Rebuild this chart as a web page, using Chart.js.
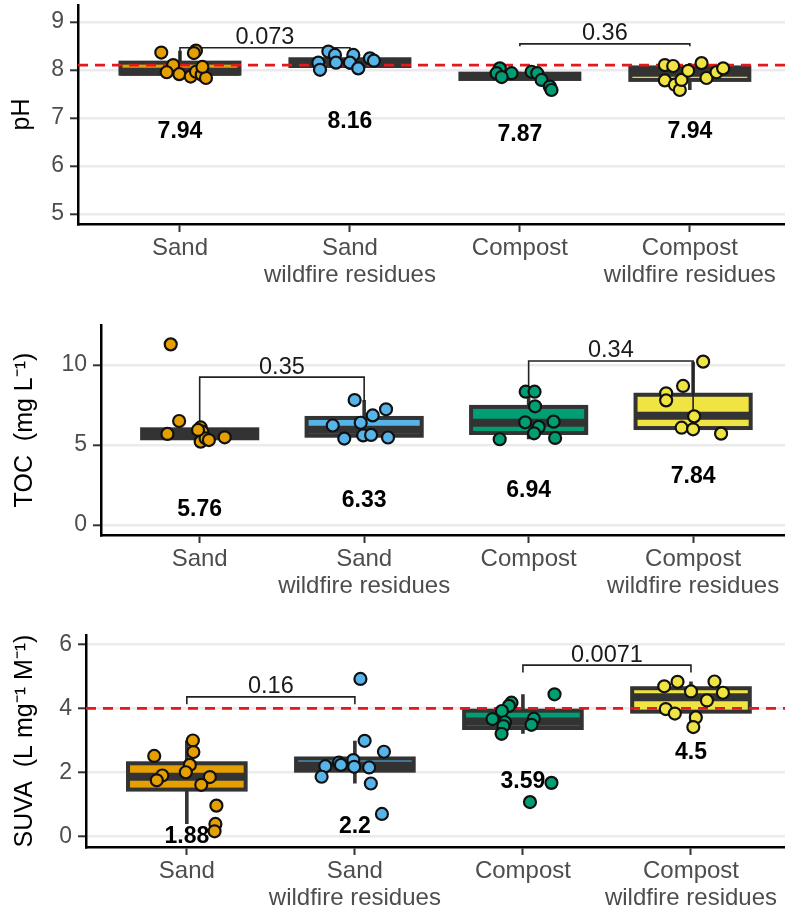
<!DOCTYPE html>
<html>
<head>
<meta charset="utf-8">
<script src="https://cdn.jsdelivr.net/npm/chart.js@4.4.1/dist/chart.umd.min.js"></script>
<style>
  html, body { margin: 0; padding: 0; background: #fff; width: 785px; height: 909px; overflow: hidden; position: relative; }
  canvas { position: absolute; left: 0; }
</style>
</head>
<body>
<canvas id="ph" width="800" height="315" style="top:-15px"></canvas>
<canvas id="toc" width="800" height="310" style="top:300px"></canvas>
<canvas id="suva" width="800" height="310" style="top:610px"></canvas>
<script>
// ---- categories (x axis, multi-line labels) ----
const categories = [['Sand'], ['Sand', 'wildfire residues'], ['Compost'], ['Compost', 'wildfire residues']];

// ---- pH ----
const phTicks = [5, 6, 7, 8, 9];
const phSand      = [8.36, 8.40, 8.35, 8.10, 7.95, 7.91, 7.86, 7.96, 7.90, 7.83, 8.06];
const phSandWR    = [8.38, 8.31, 8.15, 8.00, 8.15, 8.31, 8.15, 8.03, 8.24, 8.19];
const phCompost   = [8.03, 7.93, 7.93, 7.85, 7.96, 7.93, 7.79, 7.65, 7.58];
const phCompostWR = [8.10, 8.08, 7.78, 7.69, 7.58, 7.79, 7.98, 8.14, 7.83, 7.95, 8.03];
const phJitter = [
  [-0.11, 0.094, 0.082, -0.04, -0.078, -0.004, 0.063, 0.094, 0.128, 0.153, 0.132],
  [-0.127, -0.088, -0.186, -0.176, -0.082, 0.02, 0.0, 0.049, 0.118, 0.141],
  [-0.118, -0.137, -0.049, -0.107, 0.069, 0.102, 0.128, 0.176, 0.186],
  [-0.147, -0.098, -0.147, -0.088, -0.059, -0.049, -0.01, 0.069, 0.098, 0.157, 0.196]
];
const phQ1     = [7.92, 8.08, 7.81, 7.79];
const phMedian = [7.96, 8.16, 7.87, 7.94];
const phQ3     = [8.15, 8.22, 7.92, 8.05];
const phLow    = [7.83, 8.00, 7.79, 7.58];
const phHigh   = [8.40, 8.38, 7.96, 8.14];
const phMeans  = [7.94, 8.16, 7.87, 7.94];
const phPValues = ['0.073', '0.36'];
const phReference = 8.1;

// ---- TOC ----
const tocTicks = [0, 5, 10];
const tocSand      = [11.29, 6.50, 5.69, 6.10, 5.83, 5.21, 5.42, 5.31, 5.48, 5.94];
const tocSandWR    = [7.81, 7.23, 6.85, 6.39, 6.22, 5.40, 5.60, 5.63, 5.47];
const tocCompost   = [8.33, 8.33, 7.42, 6.42, 6.13, 5.73, 6.46, 5.44, 5.36];
const tocCompostWR = [10.21, 8.69, 8.23, 7.79, 6.79, 6.08, 5.98, 5.71];
const tocJitter = [
  [-0.176, -0.125, -0.196, 0.006, 0.016, 0.006, 0.036, 0.056, 0.152, -0.01],
  [-0.058, 0.133, 0.052, -0.021, -0.191, -0.121, -0.006, 0.042, 0.145],
  [-0.018, 0.036, 0.039, -0.021, 0.061, 0.033, 0.152, 0.161, -0.176],
  [0.061, -0.061, -0.164, -0.164, 0.006, -0.07, 0.0, 0.17]
];
const tocQ1     = [5.42, 5.58, 5.75, 6.06];
const tocMedian = [5.70, 5.95, 6.39, 6.83];
const tocQ3     = [5.98, 6.69, 7.38, 8.14];
const tocLow    = [5.21, 5.40, 5.36, 5.71];
const tocHigh   = [6.50, 7.81, 8.33, 10.21];
const tocMeans  = [5.76, 6.33, 6.94, 7.84];
const tocPValues = ['0.35', '0.34'];

// ---- SUVA ----
const suvaTicks = [0, 2, 4, 6];
const suvaSand      = [2.52, 3.00, 2.64, 2.24, 2.01, 1.91, 1.76, 1.86, 1.62, 0.97, 0.40, 0.17];
const suvaSandWR    = [4.92, 2.99, 2.65, 2.31, 2.39, 2.20, 2.24, 2.18, 2.16, 1.87, 1.66, 0.71];
const suvaCompost   = [4.18, 4.08, 3.92, 3.67, 3.57, 3.45, 3.21, 3.68, 3.49, 4.44, 1.68, 1.08];
const suvaCompostWR = [4.69, 4.83, 4.53, 4.84, 4.49, 4.25, 3.98, 3.84, 3.72, 3.42];
const suvaJitter = [
  [-0.194, 0.036, 0.039, 0.018, -0.006, -0.146, -0.179, 0.137, 0.086, 0.176, 0.17, 0.165],
  [0.033, 0.058, 0.173, -0.095, -0.009, -0.176, -0.083, -0.004, 0.085, -0.198, 0.095, 0.161],
  [-0.068, -0.083, -0.125, -0.181, -0.107, -0.116, -0.127, 0.065, 0.051, 0.188, 0.17, 0.042],
  [-0.159, -0.08, 0.0, 0.14, 0.19, 0.095, -0.15, -0.096, 0.029, 0.014]
];
const suvaQ1     = [1.47, 2.06, 3.39, 3.90];
const suvaMedian = [1.87, 2.22, 3.59, 4.35];
const suvaQ3     = [2.29, 2.44, 3.93, 4.63];
const suvaLow    = [0.40, 1.66, 3.21, 3.42];
const suvaHigh   = [3.00, 2.99, 4.44, 4.84];
const suvaMeans  = [1.88, 2.2, 3.59, 4.5];
const suvaPValues = ['0.16', '0.0071'];
const suvaReference = 4;

// ---- styling ----
const groupColors = ['#E69F00', '#56B4E9', '#009E73', '#F0E442'];
const DARK = '#333333';
const FONT = '"Liberation Sans", Arial, Helvetica, sans-serif';
Chart.defaults.font.family = FONT;

// Boxplot layer: whiskers, boxes, medians, mean labels and comparison brackets
const boxLayer = {
  id: 'boxLayer',
  beforeDatasetsDraw(chart, args, o) {
    const { ctx, scales: { x, y } } = chart;
    ctx.save();
    o.q1.forEach((q1, i) => {
      const cx = x.getPixelForValue(i + 1);
      const half = x.getPixelForValue(i + 1 + 0.35) - cx;
      const top = y.getPixelForValue(o.q3[i]);
      const bot = y.getPixelForValue(q1);
      ctx.strokeStyle = DARK;
      ctx.lineCap = 'butt';
      ctx.lineWidth = 3.6;
      ctx.beginPath();
      ctx.moveTo(cx, top); ctx.lineTo(cx, y.getPixelForValue(o.high[i]));
      ctx.moveTo(cx, bot); ctx.lineTo(cx, y.getPixelForValue(o.low[i]));
      ctx.stroke();
      ctx.fillStyle = groupColors[i];
      ctx.fillRect(cx - half, top, 2 * half, bot - top);
      ctx.lineWidth = 4;
      ctx.lineJoin = 'miter';
      ctx.strokeRect(cx - half, top, 2 * half, bot - top);
      const my = y.getPixelForValue(o.median[i]);
      ctx.lineWidth = 8;
      ctx.beginPath(); ctx.moveTo(cx - half, my); ctx.lineTo(cx + half, my); ctx.stroke();
    });
    // mean labels
    ctx.font = 'bold 23px ' + FONT;
    ctx.fillStyle = '#000';
    ctx.textAlign = 'center';
    ctx.textBaseline = 'middle';
    o.means.forEach((m, i) => {
      ctx.fillText(String(m), x.getPixelForValue(i + 1), y.getPixelForValue(m - o.labelDrop));
    });
    // brackets with p-values
    ctx.strokeStyle = '#222';
    ctx.lineWidth = 1.6;
    ctx.font = '23.5px ' + FONT;
    ctx.fillStyle = '#1a1a1a';
    o.brackets.forEach((b, k) => {
      const x1 = x.getPixelForValue(b.from), x2 = x.getPixelForValue(b.to);
      const yb = y.getPixelForValue(b.y);
      ctx.beginPath();
      ctx.moveTo(x1, y.getPixelForValue(b.tipL));
      ctx.lineTo(x1, yb); ctx.lineTo(x2, yb);
      ctx.lineTo(x2, y.getPixelForValue(b.tipR));
      ctx.stroke();
      ctx.fillText(o.pValues[k], (x1 + x2) / 2, yb - 10);
    });
    ctx.restore();
  }
};

function makePanel(p) {
  const datasets = [];
  if (p.reference !== null) {
    datasets.push({
      type: 'line',
      data: [{ x: 0.4, y: p.reference }, { x: 4.6, y: p.reference }],
      borderColor: '#E3191C', borderWidth: 2.8, borderDash: [10, 7],
      pointRadius: 0, order: 10
    });
  }
  p.values.forEach((vals, g) => {
    datasets.push({
      type: 'scatter',
      data: vals.map((v, k) => ({ x: g + 1 + p.jitter[g][k], y: v })),
      backgroundColor: groupColors[g], borderColor: '#111', borderWidth: 2.2,
      pointRadius: 6, order: 1
    });
  });
  new Chart(document.getElementById(p.id), {
    type: 'scatter',
    data: { datasets },
    options: {
      responsive: false, animation: false, events: [],
      layout: { padding: { top: p.padTop, right: 8, bottom: 0, left: 0 } },
      plugins: {
        legend: { display: false }, tooltip: { enabled: false },
        boxLayer: {
          q1: p.q1, median: p.median, q3: p.q3, low: p.low, high: p.high,
          means: p.means, labelDrop: p.labelDrop, brackets: p.brackets, pValues: p.pValues
        }
      },
      scales: {
        x: {
          type: 'linear', min: 0.4, max: 4.6,
          afterBuildTicks: s => { s.ticks = categories.map((c, i) => ({ value: i + 1 })); },
          afterFit: s => { s.height = p.xHeight; },
          ticks: {
            callback: (v, i) => categories[i], autoSkip: false, maxRotation: 0,
            color: '#4D4D4D', font: { size: 24, lineHeight: 1.13 }, padding: 3
          },
          grid: { drawOnChartArea: false, drawTicks: true, tickLength: 8, tickColor: DARK, tickWidth: 2 },
          border: { display: true, color: '#000', width: 2.5 }
        },
        y: {
          type: 'linear', min: p.yMin, max: p.yMax,
          afterBuildTicks: s => { s.ticks = p.ticks.map(v => ({ value: v })); },
          afterFit: s => { s.width = p.left; },
          ticks: { color: '#4D4D4D', font: { size: 23 }, padding: 6 },
          grid: { color: '#EBEBEB', lineWidth: 2.6, tickColor: DARK, tickLength: 8, tickWidth: 2 },
          border: { display: true, color: '#000', width: 2.5 },
          title: { display: true, text: p.title, color: '#000', font: { size: 25 }, padding: { top: p.titlePad, bottom: 0 } }
        }
      }
    },
    plugins: [boxLayer]
  });
}

makePanel({
  id: 'ph', title: 'pH', titlePad: 7, left: 78, padTop: 20, xHeight: 76,
  yMin: 4.79, yMax: 9.35, ticks: phTicks,
  values: [phSand, phSandWR, phCompost, phCompostWR], jitter: phJitter,
  q1: phQ1, median: phMedian, q3: phQ3, low: phLow, high: phHigh,
  means: phMeans, labelDrop: 1.23, pValues: phPValues, reference: phReference,
  brackets: [
    { from: 1, to: 2, y: 8.46, tipL: 8.18, tipR: 8.30 },
    { from: 3, to: 4, y: 8.54, tipL: 8.49, tipR: 8.49 }
  ]
});

makePanel({
  id: 'toc', title: 'TOC  (mg L\u207B\u00B9)', titlePad: 10, left: 101, padTop: 25, xHeight: 75,
  yMin: -0.625, yMax: 12.5, ticks: tocTicks,
  values: [tocSand, tocSandWR, tocCompost, tocCompostWR], jitter: tocJitter,
  q1: tocQ1, median: tocMedian, q3: tocQ3, low: tocLow, high: tocHigh,
  means: tocMeans, labelDrop: 4.8, pValues: tocPValues, reference: null,
  brackets: [
    { from: 1, to: 2, y: 9.24, tipL: 6.05, tipR: 7.70 },
    { from: 3, to: 4, y: 10.25, tipL: 8.42, tipR: 6.80 }
  ]
});

makePanel({
  id: 'suva', title: 'SUVA  (L mg\u207B\u00B9 M\u207B\u00B9)', titlePad: 10, left: 86, padTop: 25, xHeight: 73,
  yMin: -0.32, yMax: 6.29, ticks: suvaTicks,
  values: [suvaSand, suvaSandWR, suvaCompost, suvaCompostWR], jitter: suvaJitter,
  q1: suvaQ1, median: suvaMedian, q3: suvaQ3, low: suvaLow, high: suvaHigh,
  means: suvaMeans, labelDrop: 1.88, pValues: suvaPValues, reference: suvaReference,
  brackets: [
    { from: 1, to: 2, y: 4.36, tipL: 4.13, tipR: 4.13 },
    { from: 3, to: 4, y: 5.35, tipL: 5.12, tipR: 5.12 }
  ]
});
</script>
</body>
</html>
